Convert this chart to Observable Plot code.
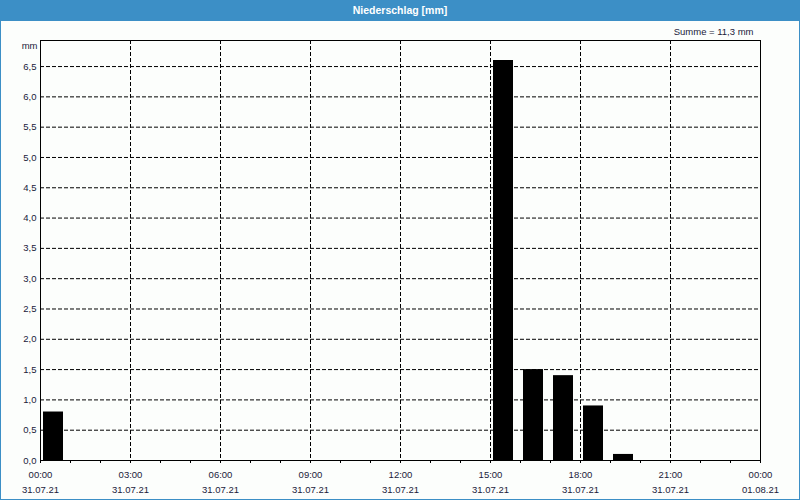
<!DOCTYPE html>
<html>
<head>
<meta charset="utf-8">
<script src="https://cdn.jsdelivr.net/npm/d3@7"></script>
<script src="https://cdn.jsdelivr.net/npm/@observablehq/plot@0.6"></script>
<style>
  html, body { margin: 0; padding: 0; background: #fcfefc; }
  #wrap { position: relative; width: 800px; height: 500px; overflow: hidden; background: #fcfefc; }
  #chart { position: absolute; left: 0; top: 0; }
  #title { position: absolute; left: 0; top: 0; width: 800px; height: 21px; background: #3c8fc6;
           color: #fff; font: bold 10.5px "Liberation Sans", Arial, sans-serif; text-align: center; line-height: 20px; }
  #border { position: absolute; left: 0; top: 0; width: 800px; height: 500px; box-sizing: border-box;
            border-left: 1px solid #3c8fc6; border-right: 1px solid #3c8fc6; border-bottom: 1px solid #3c8fc6; pointer-events: none; }
</style>
</head>
<body>
<div id="wrap">
  <div id="chart"></div>
  <div id="title">Niederschlag [mm]</div>
  <div id="border"></div>
</div>
<script>
// Data (hourly precipitation on 31.07.21)
const hours = [0, 15, 16, 17, 18, 19];
const values = [0.8, 6.6, 1.5, 1.4, 0.9, 0.1];
const yTicks = [0, 0.5, 1.0, 1.5, 2.0, 2.5, 3.0, 3.5, 4.0, 4.5, 5.0, 5.5, 6.0, 6.5];
const xLabelHours = [0, 3, 6, 9, 12, 15, 18, 21, 24];
const yMax = 6.93;
const unit = "mm";

const t = h => new Date(Date.UTC(2021, 6, 31, h));
const data = hours.map((h, i) => ({start: t(h), end: t(h + 1), value: values[i]}));
const xLabelDates = xLabelHours.map(t);
const hourTicks = d3.range(0, 25).map(t);
const sum = values.reduce((a, b) => a + b, 0);
const comma = v => v.toFixed(1).replace(".", ",");
const txt = "#1a1a3a";

const chart = Plot.plot({
  width: 800,
  height: 500,
  marginTop: 40,
  marginBottom: 40,
  marginLeft: 40,
  marginRight: 40,
  style: {background: "transparent", fontFamily: "'Liberation Sans', Arial, sans-serif", fontSize: "9.5px", color: txt},
  x: {type: "utc", domain: [t(0), t(24)], label: null},
  y: {domain: [0, yMax], label: null},
  marks: [
    Plot.gridY(yTicks.filter(v => v > 0), {stroke: "#000", strokeOpacity: 1, strokeDasharray: "4,2"}),
    Plot.gridX(xLabelDates.slice(1, -1), {stroke: "#000", strokeOpacity: 1, strokeDasharray: "4,2"}),
    Plot.rectY(data, {x1: "start", x2: "end", y: "value", insetLeft: 3, insetRight: 7, fill: "#000"}),
    Plot.axisY(yTicks, {tickSize: 0, tickPadding: 4, tickFormat: comma, fill: txt}),
    Plot.axisX(hourTicks, {tickSize: 3, tickFormat: () => "", stroke: "#000"}),
    Plot.axisX(xLabelDates, {tickSize: 0, tickPadding: 10.5, tickFormat: d3.utcFormat("%H:%M"), fill: txt}),
    Plot.axisX(xLabelDates, {tickSize: 0, tickPadding: 25.5, tickFormat: d => d3.utcFormat("%d.%m.%y")(d), fill: txt}),
    Plot.frame({stroke: "#000", strokeOpacity: 1}),
    Plot.text([`Summe = ${comma(sum)} ${unit}`], {text: d => d, frameAnchor: "top-right", textAnchor: "end", lineAnchor: "middle", dx: -7, dy: -9, fill: txt}),
    Plot.text([unit], {text: d => d, frameAnchor: "top-left", textAnchor: "end", lineAnchor: "middle", dx: -3, dy: 5, fill: txt})
  ]
});
document.getElementById("chart").appendChild(chart);
</script>
</body>
</html>
